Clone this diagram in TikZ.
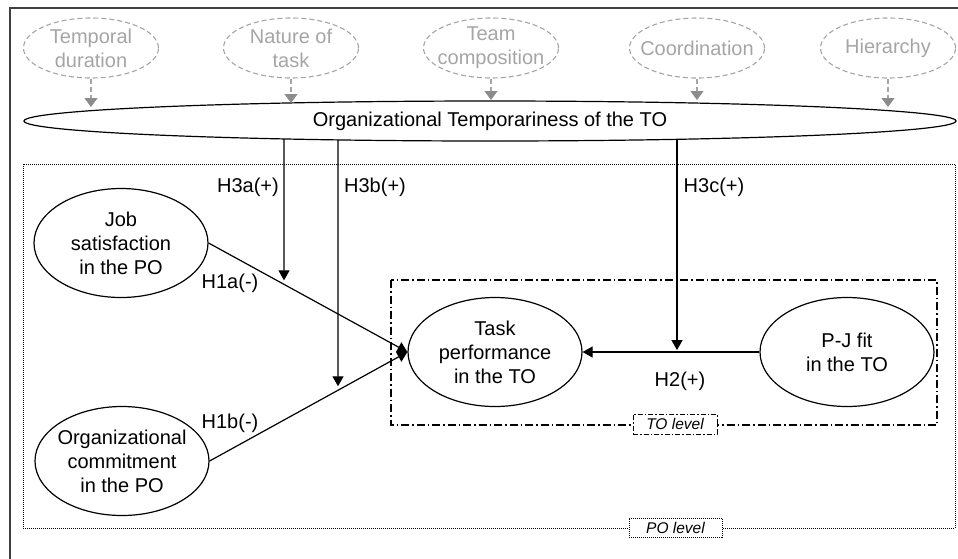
\documentclass[tikz,border=0pt]{standalone}
\usepackage{fontspec}
\setmainfont{Liberation Sans}
\usetikzlibrary{arrows.meta,shapes.geometric,calc}
\definecolor{lightg}{RGB}{165,165,165}
\definecolor{tipg}{RGB}{140,140,140}
\definecolor{framec}{RGB}{64,64,64}
\begin{document}
\begin{tikzpicture}[x=1pt,y=-1pt,font=\fontsize{20}{24}\selectfont,
  factor/.style={ellipse, draw=lightg, dash pattern=on 5pt off 3pt, line width=1.1pt,
    text=lightg, minimum width=135pt, minimum height=60pt, inner xsep=-25pt,
    inner ysep=-5pt, align=center},
  construct/.style={ellipse, draw, line width=1.2pt, fill=white, minimum width=174pt,
    minimum height=109pt, inner xsep=-30pt, inner ysep=0pt, align=center},
  garrow/.style={lightg, dash pattern=on 5pt off 3pt, line width=1.1pt,
    -{Triangle[width=13pt,length=9pt,fill=tipg,color=tipg]}},
  barrow/.style={line width=1.2pt, -{Triangle[width=11pt,length=10pt]}},
  lbl/.style={inner sep=0pt},
  lvl/.style={fill=white, line width=0.9pt, inner sep=0pt,
    font=\fontsize{15.5}{18}\selectfont\itshape}]
\useasboundingbox (0,0) rectangle (958,558);
\clip (0,0) rectangle (958,558);
% outer frame
\draw[framec, line width=2.5pt] (10,8) rectangle (990,590);
% level boxes
\draw[line width=1pt, dash pattern=on 1pt off 1pt] (23,164) rectangle (955,528);
\draw[line width=1.1pt, dash pattern=on 8pt off 3pt on 1.5pt off 3pt] (391,280) rectangle (937,425);
\node[lvl, draw, dash pattern=on 5pt off 2pt on 1.5pt off 2pt, minimum width=84pt, minimum height=20pt] (tol) at (675,424) {TO level};
\node[lvl, draw, dash pattern=on 1pt off 1pt, minimum width=93pt, minimum height=19pt] (pol) at (675.5,527.5) {PO level};
% factors
\node[factor] (td) at (91,48) {Temporal\\duration};
\node[factor] (nt) at (291,48) {Nature of\\task};
\node[factor] (tc) at (491,48) {Team\\composition};
\node[factor] (co) at (697,48) {Coordination};
\node[factor] (hi) at (888,48) {Hierarchy};
% organizational temporariness
\node[ellipse, draw, line width=1.2pt, fill=white, minimum width=932pt, minimum height=40pt, inner sep=0pt] (ot) at (490,121) {Organizational Temporariness of the TO};
\coordinate (g1) at (91,107);
\coordinate (g2) at (291,103);
\coordinate (g3) at (491,100);
\coordinate (g4) at (697,100);
\coordinate (g5) at (888,107);
\draw[garrow] (td.south) -- (g1);
\draw[garrow] (nt.south) -- (g2);
\draw[garrow] (tc.south) -- (g3);
\draw[garrow] (co.south) -- (g4);
\draw[garrow] (hi.south) -- (g5);
% constructs
\node[construct] (js) at (121,243) {Job\\satisfaction\\in the PO};
\node[construct] (oc) at (122,461) {Organizational\\commitment\\in the PO};
\node[construct] (tp) at (495,352) {Task\\performance\\in the TO};
\node[construct] (pj) at (847,352) {P-J fit\\in the TO};
% main paths
\draw[barrow] (js.east) -- (tp.west);
\draw[barrow] (oc.east) -- (tp.west);
\draw[barrow] (pj.west) -- (tp.east);
% moderators
\coordinate (a3) at (284,139);
\coordinate (a3b) at (284,560);
\coordinate (b3) at (338,140);
\coordinate (b3b) at (338,560);
\coordinate (c3) at (677,139);
\coordinate (c3b) at (677,560);
\draw[barrow, shorten >=4pt] (a3) -- (intersection of a3--a3b and js.east--tp.west);
\draw[barrow, shorten >=4pt] (b3) -- (intersection of b3--b3b and oc.east--tp.west);
\draw[barrow, shorten >=2pt] (c3) -- (intersection of c3--c3b and pj.west--tp.east);
% labels
\node[lbl] (l3a) at (248,187) {H3a(+)};
\node[lbl] (l3b) at (375,187) {H3b(+)};
\node[lbl] (l3c) at (714,187) {H3c(+)};
\node[lbl] (l1a) at (230,283) {H1a(-)};
\node[lbl] (l1b) at (230,423) {H1b(-)};
\node[lbl] (l2) at (680,381) {H2(+)};
\end{tikzpicture}
\end{document}
